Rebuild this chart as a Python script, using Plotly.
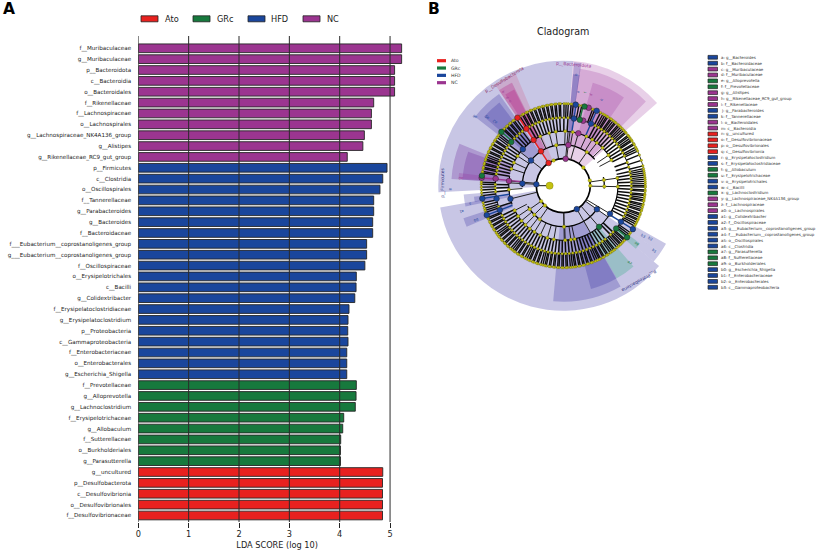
import math
import plotly.graph_objects as go

W, H = 816, 551
FONT = "DejaVu Sans"
COL = {"Ato": "#e8211f", "GRc": "#17793d", "HFD": "#1a469c", "NC": "#9b3590"}

# ---------- Panel A data ----------
nc_names = ["f__Muribaculaceae", "g__Muribaculaceae", "p__Bacteroidota", "c__Bacteroidia", "o__Bacteroidales",
            "f__Rikenellaceae", "f__Lachnospiraceae", "o__Lachnospirales", "g__Lachnospiraceae_NK4A136_group",
            "g__Alistipes", "g__Rikenellaceae_RC9_gut_group"]
nc_values = [5.23, 5.23, 5.09, 5.09, 5.09, 4.675, 4.63, 4.63, 4.49, 4.46, 4.15]
hfd_names = ["p__Firmicutes", "c__Clostridia", "o__Oscillospirales", "f__Tannerellaceae", "g__Parabacteroides",
             "g__Bacteroides", "f__Bacteroidaceae", "f___Eubacterium__coprostanoligenes_group",
             "g___Eubacterium__coprostanoligenes_group", "f__Oscillospiraceae", "o__Erysipelotrichales", "c__Bacilli",
             "g__Colidextribacter", "f__Erysipelatoclostridiaceae", "g__Erysipelatoclostridium", "p__Proteobacteria",
             "c__Gammaproteobacteria", "f__Enterobacteriaceae", "o__Enterobacterales", "g__Escherichia_Shigella"]
hfd_values = [4.94, 4.855, 4.80, 4.675, 4.675, 4.655, 4.655, 4.535, 4.535, 4.50, 4.33, 4.325, 4.30, 4.185, 4.165,
              4.16, 4.165, 4.14, 4.14, 4.14]
grc_names = ["f__Prevotellaceae", "g__Alloprevotella", "g__Lachnoclostridium", "f__Erysipelotrichaceae",
             "g__Allobaculum", "f__Sutterellaceae", "o__Burkholderiales", "g__Parasutterella"]
grc_values = [4.33, 4.325, 4.31, 4.08, 4.06, 4.02, 4.015, 4.015]
ato_names = ["g__uncultured", "p__Desulfobacterota", "c__Desulfovibrionia", "o__Desulfovibrionales",
             "f__Desulfovibrionaceae"]
ato_values = [4.855, 4.85, 4.85, 4.85, 4.85]
x_ticks = [0, 1, 2, 3, 4, 5]
groups = ["Ato", "GRc", "HFD", "NC"]

# ---------- Panel B data (bearing in degrees clockwise from top, radius in chart units) ----------
ring_r = [13.7, 27, 41, 54.5, 68, 82]

sector_group = ["HFD", "NC", "HFD", "HFD", "NC", "NC", "HFD", "HFD", "Ato", "Mag", "Mag", "HFD", "HFD", "Pur", "Pur",
                "NC", "HFD", "HFD", "HFD", "HFD", "HFD", "GRc", "HFD", "GRc"]
sector_start = [267, 4.5, 130, 124.5, 8, 16, 5, 5, 326, 326, 327.5, 308, 311, 273.4, 273.4, 274,
                258, 259.5, 247, 150.4, 150, 139, 119.5, 127]
sector_end = [364.5, 48.6, 260, 130, 44.4, 34.5, 8.4, 8.4, 337, 333.5, 333, 325, 322.5, 292, 289.7, 277,
              265, 263, 252, 185, 165, 150, 124.5, 131]
sector_inner = [27, 27, 27, 27, 41, 54.5, 41, 54.5, 27, 41, 54.5, 41, 54.5, 54.5, 68, 68,
                54.5, 68, 54.5, 41, 54.5, 54.5, 68, 68]
sector_outer = [125, 125, 125, 118, 118, 107, 124, 112, 122, 115, 108, 112, 105, 112, 101, 105,
                100, 90, 105, 116, 107, 107, 118, 96]

arc_radius = [27, 41, 41, 41, 41, 54.5, 54.5, 54.5, 54.5, 68, 82]
arc_start = [0, 300, 120, 78, 268, 288, 80, 125, 250, 0, 0]
arc_end = [360, 410, 240, 94, 300, 422, 125, 245, 280, 360, 360]
arc_thick = [1.7, 1.3, 1.3, 1.3, 1.3, 1.1, 1.1, 1.1, 1.1, 0.9, 0.7]

ring5_yellow = [27, 29, 30.5, 32, 33, 35, 36, 37.5, 39, 40, 42, 43, 44.5, 46, 47.5, 49, 50, 52, 53, 54.5, 56, 57, 59,
                60, 62, 63.5, 65, 68, 72, 76, 78, 79.5, 81, 82.5, 84, 85.5, 87, 88.5, 90, 91, 93, 94, 96, 97, 98.5,
                100, 101, 103, 104, 105.5, 107, 108, 110, 111, 112.5, 114, 115, 116.5, 118, 119.5, 125, 126.5, 128,
                131, 132, 133.5, 135, 136, 137.5, 139, 141, 142, 143.5, 145, 147, 148, 150, 151, 153, 154, 155.5,
                157, 159, 160, 162, 163, 165, 166, 168, 169, 171, 172, 173.5, 175, 177, 178, 180, 181, 183, 184, 186,
                187, 189, 190, 192, 193, 194.5, 196, 198, 199, 201, 202, 204, 205, 206.5, 208, 210, 211, 213, 214,
                216, 217, 218.5, 220, 222, 223, 225, 226, 228, 229, 231, 232, 233.5, 235, 237, 238, 240, 241, 243,
                244, 246, 247, 251, 252.5, 254, 256, 258, 263, 265, 267, 269, 271, 272.5, 279, 280, 282, 283, 285,
                286, 288, 289, 290.5, 292, 294, 295, 297, 298, 300, 301, 303, 304, 306, 307.5, 309, 313, 314, 316,
                317, 319, 320, 322, 323, 325, 328, 330, 331, 333, 334, 336, 337, 339, 340, 342, 343, 345, 346, 348,
                349, 351, 352, 354, 355, 357, 358, 0.5, 2, 3.5, 5.5, 7, 11, 13, 21, 22.5]
ring4_yellow = [28, 31, 34, 37, 40, 43, 46, 49, 52, 55, 58, 61, 64, 70, 74, 78, 81, 84, 87, 90, 93, 96, 99, 102, 105,
                108, 111, 114, 117, 133, 136, 142, 145, 148, 151, 154, 157, 160, 163, 166, 169, 172, 175, 178, 181,
                184, 187, 190, 193, 196, 199, 202, 205, 208, 211, 214, 217, 220, 223, 226, 229, 232, 235, 238, 241,
                244, 252, 265, 268, 271, 280, 283, 286, 289, 292, 295, 298, 301, 304, 307, 314, 317, 320, 323, 330,
                333, 336, 339, 342, 345, 348, 351, 354, 357, 0.5, 4]
ring3_yellow = [335, 345, 352, 2, 10, 25, 32, 38, 46, 56, 62, 82, 91, 168, 172, 178, 190, 197, 205, 212, 218, 224, 230,
                236, 243, 266, 288, 295, 303]
ring2_yellow = [350, 35, 82, 91, 179, 215, 225, 235]
ring1_yellow = [339, 48, 79, 90, 223, 235]
root_bearing = [270]
main_links = [273, 150, 125, 121, 139, 179, 16, 5, 7, 275, 256, 308]

ato_ring_bearing = [327, 327, 327, 327, 326]
ato_ring_radius = [27, 41, 54.5, 68, 82]
nc_ring_bearing = [5, 7, 16, 17, 18, 275, 276, 275.5]
nc_ring_radius = [27, 41, 54.5, 68, 82, 54.5, 68, 82]
grc_ring_bearing = [139, 310, 14, 129, 311, 15, 129, 277]
grc_ring_radius = [54.5, 68, 68, 68, 82, 82, 82, 82]
hfd_ring_bearing = [273, 150, 273, 308, 125, 312, 256, 121, 259, 249, 9, 24, 122, 261, 249, 8.7, 24, 122]
hfd_ring_radius = [27, 27, 41, 41, 41, 54.5, 54.5, 54.5, 68, 68, 68, 68, 68, 82, 82, 82, 82, 82]

link_bearing = [327, 9, 24, 122, 14, 129, 311, 261, 249, 275.5]
link_inner = [27, 54.5, 54.5, 54.5, 68, 68, 68, 54.5, 54.5, 41]
link_outer = [82, 82, 82, 82, 82, 82, 82, 82, 82, 82]
link_group = ["Ato", "HFD", "HFD", "HFD", "GRc", "GRc", "GRc", "HFD", "HFD", "NC"]

legend_keys = ["a", "b", "c", "d", "e", "f", "g", "h", "i", "j", "k", "l", "m", "n", "o", "p", "q", "r", "s", "t", "u",
               "v", "w", "x", "y", "z", "a0", "a1", "a2", "a3", "a4", "a5", "a6", "a7", "a8", "a9", "b0", "b1", "b2",
               "b3"]
legend_taxa = ["g__Bacteroides", "f__Bacteroidaceae", "g__Muribaculaceae", "f__Muribaculaceae", "g__Alloprevotella",
               "f__Prevotellaceae", "g__Alistipes", "g__Rikenellaceae_RC9_gut_group", "f__Rikenellaceae",
               "g__Parabacteroides", "f__Tannerellaceae", "o__Bacteroidales", "c__Bacteroidia", "g__uncultured",
               "f__Desulfovibrionaceae", "o__Desulfovibrionales", "c__Desulfovibrionia", "g__Erysipelatoclostridium",
               "f__Erysipelatoclostridiaceae", "g__Allobaculum", "f__Erysipelotrichaceae", "o__Erysipelotrichales",
               "c__Bacilli", "g__Lachnoclostridium", "g__Lachnospiraceae_NK4A136_group", "f__Lachnospiraceae",
               "o__Lachnospirales", "g__Colidextribacter", "f__Oscillospiraceae",
               "g___Eubacterium__coprostanoligenes_group", "f___Eubacterium__coprostanoligenes_group",
               "o__Oscillospirales", "c__Clostridia", "g__Parasutterella", "f__Sutterellaceae", "o__Burkholderiales",
               "g__Escherichia_Shigella", "f__Enterobacteriaceae", "o__Enterobacterales", "c__Gammaproteobacteria"]
legend_group = ["HFD", "HFD", "NC", "NC", "GRc", "GRc", "NC", "NC", "NC", "HFD", "HFD", "NC", "NC", "Ato", "Ato", "Ato",
                "Ato", "HFD", "HFD", "GRc", "GRc", "HFD", "HFD", "GRc", "NC", "NC", "NC", "HFD", "HFD", "HFD", "HFD",
                "HFD", "HFD", "GRc", "GRc", "GRc", "HFD", "HFD", "HFD", "HFD"]

tiny_text = ["a", "f", "d", "k", "b", "a6", "a5", "a2", "q", "p", "o", "a0", "w", "a1", "b0", "s", "a7", "a9", "b3", "b2", "b1"]
tiny_bearing = [9, 13.6, 17, 24, 6.8, 308, 312, 313, 327, 327.5, 327.6, 274, 268, 256, 249, 259, 139.4, 128.5, 122, 121.4, 125.5]
tiny_radius = [95, 96, 95, 95, 112, 112, 103, 94, 111, 105, 99.5, 103, 113, 105, 94, 95, 102, 94, 94, 102, 112]
tiny_group = ["HFD", "GRc", "NC", "HFD", "HFD", "HFD", "HFD", "HFD", "NC", "NC", "NC", "NC", "HFD", "HFD", "HFD", "HFD",
              "GRc", "GRc", "HFD", "HFD", "HFD"]

phylum_text = ["p__Bacteroidota", "p__Desulfobacterota", "p__Firmicutes", "p__Proteobacteria"]
phylum_bearing = [5, 331, 271.5, 141.5]
phylum_radius = [121, 121, 121, 121]
phylum_angle = [5, -32, -90, 151]
phylum_color = [COL["NC"], "#8a2a5e", "#2a2f80", "#2a2f80"]

# ---------- Layout constants ----------
CX, CY, PR = 563.3, 185.7, 130
AX0, AX1 = 138.3, 416.0
AY0, AY1 = 36.0, 522.0


def px(x):
    return x / W


def py(y):
    return 1 - y / H


def polar_xy(bearing, r):
    a = math.radians(bearing)
    return px(CX + r * math.sin(a)), py(CY - r * math.cos(a))


fig = go.Figure()

# ---------- Panel A traces ----------
for name, ys, xs in [("NC", nc_names, nc_values), ("HFD", hfd_names, hfd_values),
                     ("GRc", grc_names, grc_values), ("Ato", ato_names, ato_values)]:
    fig.add_trace(go.Bar(x=xs, y=ys, orientation="h", name=name, width=0.8, showlegend=False,
                         marker=dict(color=COL[name], line=dict(color="#262626", width=0.9)), hoverinfo="x+y"))

# ---------- Panel B traces ----------
overlay = {"HFD": "rgba(50,45,160,0.27)", "NC": "rgba(150,40,150,0.22)", "Ato": "rgba(215,40,90,0.17)",
           "Mag": "rgba(180,30,130,0.30)", "GRc": "rgba(30,170,120,0.27)", "Pur": "rgba(105,35,150,0.27)"}
fig.add_trace(go.Barpolar(theta=[(s + e) / 2 for s, e in zip(sector_start, sector_end)],
                          width=[e - s for s, e in zip(sector_start, sector_end)],
                          base=sector_inner, r=[o - i for o, i in zip(sector_outer, sector_inner)],
                          marker=dict(color=[overlay[g] for g in sector_group], line=dict(width=0)),
                          showlegend=False, hoverinfo="skip"))
fig.add_trace(go.Barpolar(theta=[(s + e) / 2 for s, e in zip(arc_start, arc_end)],
                          width=[e - s for s, e in zip(arc_start, arc_end)],
                          base=[r - t / 2 for r, t in zip(arc_radius, arc_thick)], r=arc_thick,
                          marker=dict(color="#000000", line=dict(width=0)), showlegend=False, hoverinfo="skip"))


def spokes(bearings, r0, r1):
    th, rr = [], []
    for b in bearings:
        th += [b, b, None]
        rr += [r0, r1, None]
    return th, rr


for bearings, r0, r1, w in [(ring5_yellow, ring_r[4], ring_r[5], 1.35), (ring4_yellow, ring_r[3], ring_r[4], 1.5),
                            (ring3_yellow, ring_r[2], ring_r[3], 0.9), (ring2_yellow, ring_r[1], ring_r[2], 0.9),
                            (root_bearing, ring_r[0], ring_r[1], 1.0)]:
    th, rr = spokes(bearings, r0, r1)
    fig.add_trace(go.Scatterpolar(theta=th, r=rr, mode="lines", line=dict(color="#0c0c0c", width=w),
                                  showlegend=False, hoverinfo="skip"))
th, rr = spokes(main_links, ring_r[1], ring_r[3])
fig.add_trace(go.Scatterpolar(theta=th, r=rr, mode="lines", line=dict(color="#222222", width=1),
                              showlegend=False, hoverinfo="skip"))
for b, r0, r1, g in zip(link_bearing, link_inner, link_outer, link_group):
    fig.add_trace(go.Scatterpolar(theta=[b, b], r=[r0, r1], mode="lines", line=dict(color=COL[g], width=1.4),
                                  showlegend=False, hoverinfo="skip"))

for bearings, rad, size in [(ring5_yellow, ring_r[5], 2.5), (ring4_yellow, ring_r[4], 2.6),
                            (ring3_yellow, ring_r[3], 3.2), (ring2_yellow, ring_r[2], 3.4),
                            (ring1_yellow, ring_r[1], 3.6), (root_bearing, ring_r[0], 7.2)]:
    fig.add_trace(go.Scatterpolar(theta=bearings, r=[rad] * len(bearings), mode="markers",
                                  marker=dict(color="#c4c210", size=size, line=dict(color="#5c5a10", width=0.3)),
                                  showlegend=False, hoverinfo="skip"))
for g, bearings, rads in [("Ato", ato_ring_bearing, ato_ring_radius), ("NC", nc_ring_bearing, nc_ring_radius),
                          ("GRc", grc_ring_bearing, grc_ring_radius), ("HFD", hfd_ring_bearing, hfd_ring_radius)]:
    fig.add_trace(go.Scatterpolar(theta=bearings, r=rads, mode="markers", name=g,
                                  marker=dict(color=COL[g], size=5.6, line=dict(color="#222222", width=0.5)),
                                  showlegend=False, hoverinfo="skip"))

# ---------- Annotations and shapes ----------
ann, shp = [], []


def text(x, y, s, size, color="#111111", anchor="left", angle=0, bold=False):
    ann.append(dict(x=px(x), y=py(y), xref="paper", yref="paper", text=f"<b>{s}</b>" if bold else s, showarrow=False,
                    xanchor=anchor, yanchor="middle", textangle=angle, borderpad=0,
                    font=dict(family=FONT, size=size, color=color)))


def swatch(x0, x1, y0, y1, color, lw=0.6):
    shp.append(dict(type="rect", xref="paper", yref="paper", x0=px(x0), x1=px(x1), y0=py(y0), y1=py(y1),
                    fillcolor=color, line=dict(color="#222222", width=lw)))


text(2, 9, "A", 15.5, "#000000", bold=True)
text(427, 9, "B", 15.5, "#000000", bold=True)
text(CX, 32, "Cladogram", 9.6, "#222222", "center")

for g, x0, tx in zip(groups, [141, 193, 248, 303], [164, 216, 270, 326]):
    swatch(x0, x0 + 17, 15.8, 21.8, COL[g], 0.8)
    text(tx, 18.8, g, 8.2, "#222222")

for i, g in enumerate(groups):
    y = 60.7 + i * 7.33
    shp.append(dict(type="rect", xref="paper", yref="paper", x0=px(437), x1=px(446), y0=py(y - 1.6), y1=py(y + 1.6),
                    fillcolor=COL[g], line=dict(width=0)))
    text(450, y, g, 4.6, "#333333")

for i, (k, t, g) in enumerate(zip(legend_keys, legend_taxa, legend_group)):
    y = 57.3 + i * 5.897
    swatch(708, 717.5, y - 1.9, y + 1.9, COL[g], 0.7)
    text(720, y, f"{k}: {t}", 3.95, "#333333")

for s, b, r, ang, c in zip(phylum_text, phylum_bearing, phylum_radius, phylum_angle, phylum_color):
    x, y = polar_xy(b, r)
    ann.append(dict(x=x, y=y, xref="paper", yref="paper", text=s, showarrow=False, textangle=ang,
                    xanchor="center", yanchor="middle", font=dict(family=FONT, size=4.4, color=c)))
for s, b, r, g in zip(tiny_text, tiny_bearing, tiny_radius, tiny_group):
    x, y = polar_xy(b, r)
    ann.append(dict(x=x, y=y, xref="paper", yref="paper", text=s, showarrow=False, textangle=b - 90,
                    xanchor="center", yanchor="middle", font=dict(family=FONT, size=3.6, color=COL[g])))

for t in x_ticks:
    shp.append(dict(type="line", xref="x", yref="y domain", x0=t, x1=t, y0=0, y1=1, layer="above",
                    line=dict(color="#2a2a2a", width=1)))

order = nc_names + hfd_names + grc_names + ato_names
fig.update_layout(
    width=W, height=H, autosize=False, margin=dict(l=0, r=0, t=0, b=0, autoexpand=False),
    paper_bgcolor="white", plot_bgcolor="white", barmode="overlay", showlegend=False,
    font=dict(family=FONT, color="#222222"),
    xaxis=dict(domain=[px(AX0), px(AX1)], range=[0, (AX1 - AX0) / 50.35], tickvals=x_ticks, showgrid=False,
               automargin=False, zeroline=False, showline=False, ticks="outside", ticklen=4.5, tickwidth=0.8,
               tickcolor="#222222", tickfont=dict(size=8.2, family=FONT, color="#222222"),
               title=dict(text="LDA SCORE (log 10)", font=dict(size=8.2, family=FONT, color="#222222"), standoff=3)),
    yaxis=dict(domain=[py(AY1), py(AY0)], type="category", categoryorder="array", categoryarray=order,
               automargin=False, range=[43.6, -1.13], showgrid=False, zeroline=False, showline=False, ticks="outside",
               ticklen=5, tickcolor="rgba(0,0,0,0)", tickmode="linear", dtick=1,
               tickfont=dict(size=5.6, family=FONT, color="#222222")),
    polar=dict(domain=dict(x=[px(CX - PR), px(CX + PR)], y=[py(CY + PR), py(CY - PR)]),
               bgcolor="rgba(0,0,0,0)", barmode="overlay", hole=0,
               radialaxis=dict(visible=False, range=[0, PR]),
               angularaxis=dict(visible=False, rotation=90, direction="clockwise", thetaunit="degrees")),
    annotations=ann, shapes=shp,
)
fig.write_html("out.html", config=dict(displayModeBar=False), post_script="document.body.style.margin='0';")
